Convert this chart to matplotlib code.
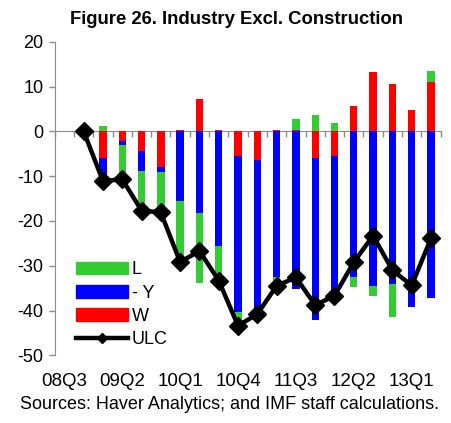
import numpy as np
import matplotlib
matplotlib.use("Agg")
import matplotlib.pyplot as plt
from matplotlib.lines import Line2D

plt.rcParams['font.family'] = ['Liberation Sans', 'DejaVu Sans']
plt.rcParams['axes.unicode_minus'] = False

## Data
quarters = ['08Q3', '08Q4', '09Q1', '09Q2', '09Q3', '09Q4', '10Q1', '10Q2', '10Q3', '10Q4',
            '11Q1', '11Q2', '11Q3', '11Q4', '12Q1', '12Q2', '12Q3', '12Q4', '13Q1', '13Q2']
tick_labels = ['08Q3', '09Q2', '10Q1', '10Q4', '11Q3', '12Q2', '13Q1']

# contributions (first data point is the 0 base of ULC, no bars)
w_vals = [np.nan, -5.9, -2.2, -4.4, -7.9, 0.4, 7.3, 0.3, -5.6, -6.5,
          0.2, 0.3, -5.9, -5.4, 5.6, 13.3, 10.6, 4.8, 11.1]
neg_y_vals = [np.nan, -6.2, -0.9, -4.4, -1.1, -15.6, -18.3, -25.5, -34.8, -33.8,
              -32.6, -35.3, -36.3, -33.0, -32.6, -34.6, -34.1, -39.3, -37.3]
l_vals = [np.nan, 1.2, -7.6, -8.9, -9.1, -13.8, -15.6, -6.3, -1.8, -0.5,
          -0.7, 2.5, 3.6, 1.8, -2.2, -2.1, -7.4, 0.0, 2.3]
ulc_vals = [0.0, -11.1, -10.7, -17.7, -18.1, -29.2, -26.7, -33.3, -43.4, -40.8,
            -34.5, -32.6, -38.8, -36.7, -29.2, -23.3, -31.0, -34.4, -23.9]

GREEN = '#33CC33'
BLUE = '#0000FF'
RED = '#FF0000'
GRAY = '#8C8C8C'

fig = plt.figure(figsize=(4.51, 4.23), dpi=100)
ax = fig.add_axes([0.1213, 0.160, 0.8557, 0.7414])

x = np.arange(1, len(ulc_vals) + 1)
width = 0.38

# stack positives and negatives separately, Excel style (W, -Y, L)
pos_base = np.zeros(len(x))
neg_base = np.zeros(len(x))
for vals, col in [(w_vals, RED), (neg_y_vals, BLUE), (l_vals, GREEN)]:
    v = np.nan_to_num(np.array(vals, dtype=float))
    base = np.where(v >= 0, pos_base, neg_base)
    ax.bar(x, v, width, bottom=base, color=col, edgecolor='none', zorder=2)
    pos_base = pos_base + np.where(v >= 0, v, 0)
    neg_base = neg_base + np.where(v < 0, v, 0)

ax.plot(x, ulc_vals, color='black', lw=3.2, marker='D', markersize=9, zorder=4)

ax.set_xlim(-0.5, len(quarters) - 0.5)
ax.set_ylim(-50, 20)
ax.set_yticks(np.arange(-50, 21, 10))

ax.spines['top'].set_visible(False)
ax.spines['right'].set_visible(False)
ax.spines['left'].set_color(GRAY)
ax.spines['bottom'].set_color(GRAY)
ax.spines['bottom'].set_position(('data', 0))
ax.spines['bottom'].set_zorder(1)

ax.set_xticks(np.arange(-0.5, len(quarters), 1.0))
ax.set_xticklabels([])
ax.tick_params(axis='x', direction='out', length=4, color=GRAY, width=1)
ax.tick_params(axis='y', direction='out', length=4, color=GRAY, width=1,
               labelsize=13, pad=4)

for i in range(0, len(quarters), 3):
    ax.text(i, -0.085, quarters[i], transform=ax.get_xaxis_transform(),
            ha='center', va='center', fontsize=13.5)

handles = [
    plt.Rectangle((0, 0), 1, 1, color=GREEN),
    plt.Rectangle((0, 0), 1, 1, color=BLUE),
    plt.Rectangle((0, 0), 1, 1, color=RED),
    Line2D([], [], color='black', lw=3.2, marker='D', markersize=5),
]
ax.legend(handles, ['L', '- Y', 'W', 'ULC'], loc='upper left',
          bbox_to_anchor=(0.055, 0.30), frameon=False, fontsize=13,
          handlelength=2.9, handleheight=0.7, handletextpad=0.2,
          labelspacing=0.35, borderpad=0, borderaxespad=0)

fig.text(0.524, 0.955, 'Figure 26. Industry Excl. Construction',
         ha='center', va='center', fontsize=13.3, fontweight='bold')
fig.text(0.509, 0.043, 'Sources: Haver Analytics; and IMF staff calculations.',
         ha='center', va='center', fontsize=13)

fig.savefig('out.png', dpi=100)
